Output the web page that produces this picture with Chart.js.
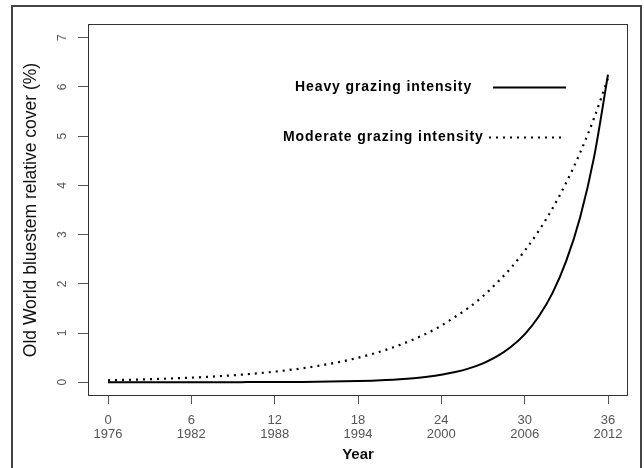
<!DOCTYPE html>
<html>
<head>
<meta charset="utf-8">
<script src="https://cdn.jsdelivr.net/npm/chart.js@4.4.1/dist/chart.umd.min.js"></script>
<style>
  html, body { margin: 0; padding: 0; background: #fff; }
  #wrap { width: 644px; height: 468px; }
</style>
</head>
<body>
<div id="wrap"><canvas id="chart"></canvas></div>
<script>
// years since 1976
const yearIndex = [0,1,2,3,4,5,6,7,8,9,10,11,12,13,14,15,16,17,18,19,20,21,22,23,24,25,26,27,28,29,30,31,32,33,34,35,36];
const heavy = [0.0001,0.0001,0.0002,0.0002,0.0003,0.0004,0.0006,0.0008,0.0011,0.0015,0.002,0.0027,0.0037,0.005,0.0068,0.0093,0.0127,0.0173,0.0236,0.0321,0.0438,0.0598,0.0815,0.111,0.151,0.206,0.282,0.384,0.523,0.714,0.973,1.33,1.81,2.47,3.36,4.58,6.25];
const moderate = [0.04,0.046,0.053,0.061,0.07,0.081,0.093,0.107,0.123,0.141,0.162,0.187,0.215,0.247,0.284,0.327,0.376,0.432,0.497,0.572,0.658,0.757,0.87,1.0,1.15,1.33,1.52,1.75,2.02,2.32,2.67,3.07,3.53,4.06,4.67,5.37,6.18];
const xTicks = [0, 6, 12, 18, 24, 30, 36];
const xTickYears = ['1976', '1982', '1988', '1994', '2000', '2006', '2012'];
const seriesNames = ['Heavy grazing intensity', 'Moderate grazing intensity'];

const toPoints = (ys) => yearIndex.map((x, i) => ({ x: x, y: ys[i] }));

// box round the plot, outer frame, and the in-plot legend
const decor = {
    id: 'decor',
    afterDraw(chart) {
        const { ctx, chartArea: a } = chart;
        ctx.save();
        ctx.strokeStyle = '#444';
        ctx.lineWidth = 2;
        ctx.strokeRect(12, 6, 629, 480);
        ctx.strokeStyle = '#333';
        ctx.lineWidth = 1;
        ctx.strokeRect(a.left + 0.5, a.top + 0.5, a.right - a.left - 1, a.bottom - a.top - 1);

        ctx.font = 'bold 14px "Liberation Sans", Arial, sans-serif';
        ctx.letterSpacing = '0.9px';
        ctx.fillStyle = '#000';
        ctx.textBaseline = 'middle';
        ctx.textAlign = 'left';
        const rows = [
            { x: a.left + 207, y: a.top + 63, l1: a.left + 405, l2: a.left + 478, dash: [] },
            { x: a.left + 195, y: a.top + 113, l1: a.left + 401, l2: a.left + 474, dash: [2, 5] }
        ];
        rows.forEach((r, i) => {
            ctx.fillText(chart.data.datasets[i].label, r.x, r.y);
            ctx.beginPath();
            ctx.setLineDash(r.dash);
            ctx.lineWidth = 2;
            ctx.strokeStyle = '#000';
            ctx.moveTo(r.l1, r.y + 0.5);
            ctx.lineTo(r.l2, r.y + 0.5);
            ctx.stroke();
        });
        ctx.restore();
    }
};

new Chart(document.getElementById('chart'), {
    type: 'line',
    data: {
        datasets: [{
            label: seriesNames[0],
            data: toPoints(heavy),
            borderColor: '#000',
            borderWidth: 2,
            pointRadius: 0,
            cubicInterpolationMode: 'monotone'
        }, {
            label: seriesNames[1],
            data: toPoints(moderate),
            borderColor: '#000',
            borderWidth: 2.2,
            borderDash: [2, 5],
            pointRadius: 0,
            cubicInterpolationMode: 'monotone'
        }]
    },
    options: {
        responsive: true,
        maintainAspectRatio: false,
        animation: false,
        layout: { padding: { left: 14, top: 24, right: 16, bottom: 0 } },
        plugins: { legend: { display: false }, tooltip: { enabled: false } },
        scales: {
            x: {
                type: 'linear',
                min: -1.44,
                max: 37.44,
                afterFit: (s) => { s.height = 72; },
                afterBuildTicks: (s) => { s.ticks = xTicks.map(v => ({ value: v })); },
                grid: { drawOnChartArea: false, tickLength: 8, color: '#555' },
                border: { display: false },
                ticks: {
                    color: '#555',
                    padding: 10,
                    maxRotation: 0,
                    font: { family: '"Liberation Sans", Arial, sans-serif', size: 13, lineHeight: 1.05 },
                    callback: (v) => [String(v), xTickYears[xTicks.indexOf(v)]]
                },
                title: {
                    display: true,
                    text: 'Year',
                    color: '#111',
                    padding: { top: 0, bottom: 4 },
                    font: { family: '"Liberation Sans", Arial, sans-serif', size: 15, weight: 'bold' }
                }
            },
            y: {
                min: -0.28,
                max: 7.28,
                afterFit: (s) => { s.width = 74; },
                grid: { drawOnChartArea: false, tickLength: 10, color: '#555' },
                border: { display: false },
                ticks: {
                    stepSize: 1,
                    includeBounds: false,
                    color: '#555',
                    padding: 12,
                    minRotation: 90,
                    maxRotation: 90,
                    crossAlign: 'center',
                    font: { family: '"Liberation Sans", Arial, sans-serif', size: 12 }
                },
                title: {
                    display: true,
                    text: 'Old World bluestem relative cover (%)',
                    color: '#111',
                    padding: { top: 7, bottom: 0 },
                    font: { family: '"Liberation Sans", Arial, sans-serif', size: 17.5 }
                }
            }
        }
    },
    plugins: [decor]
});
</script>
</body>
</html>
